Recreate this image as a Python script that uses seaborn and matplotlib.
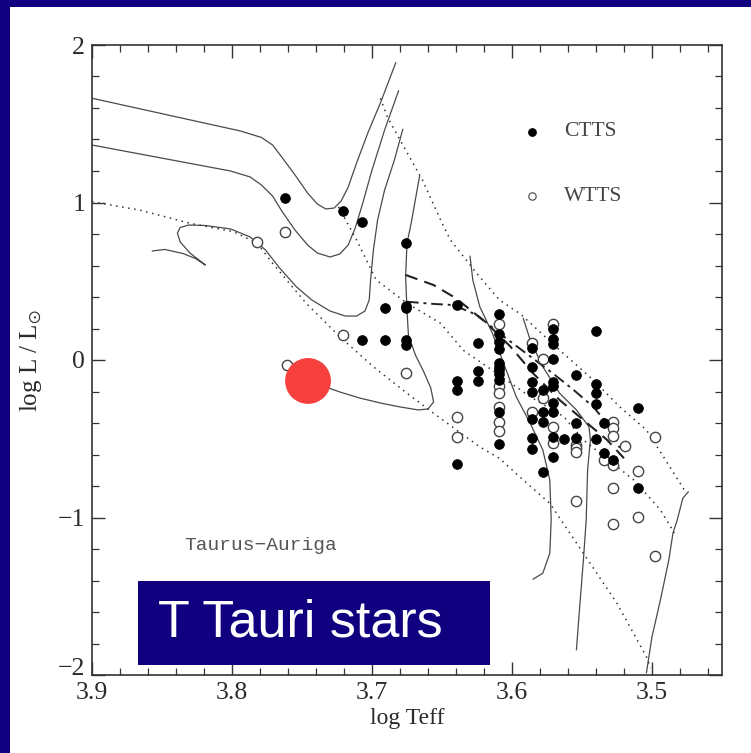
import matplotlib
matplotlib.use("Agg")
import matplotlib.pyplot as plt
import matplotlib.transforms as mtransforms
import seaborn as sns
import pandas as pd
from matplotlib.patches import Rectangle

# ---------------- data ----------------
ctts_x = [3.762, 3.721, 3.707, 3.676, 3.691, 3.676, 3.676, 3.707, 3.691, 3.676, 3.676,
          3.639, 3.639, 3.639, 3.639, 3.624, 3.624, 3.624,
          3.609, 3.609, 3.609, 3.609, 3.609, 3.609, 3.609, 3.609, 3.609, 3.609, 3.609,
          3.586, 3.586, 3.586, 3.586, 3.586, 3.586, 3.586,
          3.578, 3.578, 3.578, 3.578,
          3.571, 3.571, 3.571, 3.571, 3.571, 3.571, 3.571, 3.571, 3.571, 3.571,
          3.563, 3.554, 3.554, 3.554,
          3.540, 3.540, 3.540, 3.540, 3.540,
          3.534, 3.534, 3.528, 3.510, 3.510]
ctts_y = [1.030, 0.948, 0.878, 0.741, 0.328, 0.345, 0.330, 0.127, 0.127, 0.127, 0.095,
          0.351, -0.131, -0.190, -0.662, 0.110, -0.070, -0.131,
          0.290, 0.163, 0.112, 0.070, -0.021, -0.043, -0.063, -0.089, -0.127, -0.332, -0.533,
          0.078, -0.043, -0.138, -0.201, -0.373, -0.493, -0.563,
          -0.190, -0.328, -0.392, -0.713,
          0.199, 0.131, 0.100, 0.004, -0.138, -0.165, -0.275, -0.332, -0.491, -0.614,
          -0.503, -0.095, -0.398, -0.497,
          0.186, -0.152, -0.211, -0.281, -0.503,
          -0.402, -0.592, -0.635, -0.303, -0.815]

wtts_x = [3.782, 3.762, 3.761, 3.721, 3.676,
          3.639, 3.639,
          3.609, 3.609, 3.609, 3.609, 3.609, 3.609,
          3.586, 3.586, 3.578, 3.578,
          3.571, 3.571, 3.571,
          3.554, 3.554, 3.554, 3.554,
          3.534,
          3.528, 3.528, 3.528, 3.528, 3.528, 3.528,
          3.519, 3.510, 3.510, 3.498, 3.498]
wtts_y = [0.751, 0.811, -0.032, 0.159, -0.081,
          -0.360, -0.487,
          0.229, -0.165, -0.211, -0.297, -0.392, -0.451,
          0.110, -0.330, 0.004, -0.243,
          0.229, -0.427, -0.529,
          -0.538, -0.561, -0.584, -0.893,
          -0.635,
          -0.392, -0.434, -0.483, -0.667, -0.815, -1.043,
          -0.544, -0.703, -0.995, -0.486, -1.244]

# evolutionary tracks (solid)
trackA_x = [3.900, 3.794, 3.779, 3.771, 3.764, 3.755, 3.746, 3.739, 3.733, 3.727, 3.722, 3.717,
            3.711, 3.703, 3.694, 3.683]
trackA_y = [1.662, 1.454, 1.413, 1.365, 1.283, 1.175, 1.060, 0.990, 0.959, 0.965, 1.010, 1.098,
            1.251, 1.441, 1.632, 1.888]
trackB_x = [3.900, 3.801, 3.787, 3.779, 3.771, 3.764, 3.755, 3.746, 3.739, 3.730, 3.723, 3.717,
            3.712, 3.707, 3.700, 3.691, 3.681]
trackB_y = [1.365, 1.200, 1.162, 1.111, 1.041, 0.940, 0.825, 0.730, 0.679, 0.654, 0.673, 0.730,
            0.838, 0.984, 1.206, 1.460, 1.710]
trackC_x = [3.678, 3.684, 3.691, 3.696, 3.699, 3.701, 3.702, 3.705, 3.711, 3.719, 3.730, 3.743,
            3.754, 3.766, 3.776, 3.787, 3.801, 3.819, 3.831, 3.837, 3.839, 3.837, 3.830, 3.819,
            3.826, 3.835, 3.848, 3.857]
trackC_y = [1.465, 1.270, 1.079, 0.889, 0.698, 0.508, 0.381, 0.311, 0.279, 0.279, 0.311, 0.381,
            0.465, 0.584, 0.698, 0.781, 0.832, 0.854, 0.857, 0.841, 0.806, 0.749, 0.679, 0.603,
            0.644, 0.676, 0.702, 0.692]
trackD_x = [3.751, 3.737, 3.723, 3.709, 3.694, 3.680, 3.667, 3.660, 3.656, 3.658, 3.663, 3.669,
            3.674, 3.675, 3.676, 3.675, 3.672, 3.666]
trackD_y = [-0.114, -0.159, -0.203, -0.241, -0.273, -0.298, -0.317, -0.311, -0.267, -0.178,
            -0.076, 0.032, 0.159, 0.317, 0.529, 0.741, 0.870, 1.168]
trackE_x = [3.630, 3.628, 3.623, 3.614, 3.606, 3.597, 3.587, 3.578, 3.573, 3.572, 3.573, 3.578, 3.585]
trackE_y = [0.660, 0.508, 0.338, 0.170, -0.021, -0.233, -0.402, -0.571, -0.762, -1.016, -1.227,
            -1.354, -1.392]
trackF_x = [3.592, 3.587, 3.578, 3.566, 3.554, 3.545, 3.544, 3.546, 3.547, 3.549, 3.552, 3.554]
trackF_y = [0.265, 0.127, -0.043, -0.211, -0.317, -0.424, -0.508, -0.698, -1.016, -1.270, -1.608,
            -1.841]
trackG_x = [3.474, 3.478, 3.482, 3.485, 3.488, 3.494, 3.500, 3.504]
trackG_y = [-0.836, -0.878, -1.016, -1.098, -1.270, -1.524, -1.757, -1.987]

# isochrones (dotted)
iso1_x = [3.900, 3.866, 3.830, 3.799, 3.782, 3.771, 3.747, 3.723, 3.699, 3.675, 3.656, 3.623,
          3.609, 3.592, 3.573, 3.549, 3.525, 3.504, 3.501]
iso1_y = [1.005, 0.952, 0.868, 0.815, 0.741, 0.614, 0.360, 0.148, -0.043, -0.211, -0.338, -0.552,
          -0.624, -0.762, -0.910, -1.227, -1.545, -1.884, -1.956]
iso2_x = [3.694, 3.689, 3.680, 3.664, 3.651, 3.644, 3.626, 3.609, 3.594, 3.566, 3.542, 3.523,
          3.504, 3.489, 3.476]
iso2_y = [1.662, 1.543, 1.397, 1.143, 0.889, 0.762, 0.559, 0.381, 0.292, 0.063, -0.127, -0.298,
          -0.444, -0.654, -0.838]
iso3_x = [3.724, 3.711, 3.697, 3.675, 3.651, 3.635, 3.611, 3.587, 3.563, 3.549, 3.537, 3.513,
          3.494, 3.484]
iso3_y = [0.973, 0.762, 0.508, 0.360, 0.233, 0.063, -0.084, -0.233, -0.360, -0.508, -0.592,
          -0.762, -0.952, -1.098]

# dashed and dash-dot lines
dash_x = [3.676, 3.656, 3.640, 3.618, 3.601, 3.585, 3.566, 3.549, 3.532, 3.520]
dash_y = [0.540, 0.476, 0.392, 0.233, 0.084, -0.084, -0.254, -0.381, -0.508, -0.624]
dashdot_x = [3.675, 3.656, 3.642, 3.625, 3.609, 3.590, 3.571, 3.556, 3.542, 3.530, 3.523]
dashdot_y = [0.370, 0.356, 0.349, 0.286, 0.170, 0.043, -0.084, -0.190, -0.297, -0.424, -0.559]

# highlighted star
sun_x = [3.7457]
sun_y = [-0.133]

xticks = [3.9, 3.8, 3.7, 3.6, 3.5]
xticklabels = ["3.9", "3.8", "3.7", "3.6", "3.5"]
yticks = [-2, -1, 0, 1, 2]
yticklabels = ["\u22122", "\u22121", "0", "1", "2"]

NAVY = "#100080"

# ---------------- plot ----------------
sns.set_theme(style="ticks")
plt.rcParams["font.family"] = ["Liberation Serif", "DejaVu Serif"]
plt.rcParams["mathtext.fontset"] = "stix"

fig = plt.figure(figsize=(7.51, 7.53), dpi=100, facecolor=NAVY)
bg = Rectangle((10 / 751, 0), 1, (753 - 7) / 753, transform=fig.transFigure,
               facecolor="white", edgecolor="none", zorder=-10)
fig.add_artist(bg)
ax = fig.add_axes([92 / 751, 78 / 753, 630 / 751, 630 / 753])
ax.set_zorder(1)
ax.set_facecolor("white")

line_col = "#4a4a4a"
solid_tracks = [(trackA_x, trackA_y), (trackB_x, trackB_y), (trackC_x, trackC_y),
                (trackD_x, trackD_y), (trackE_x, trackE_y), (trackF_x, trackF_y),
                (trackG_x, trackG_y)]
for tx, ty in solid_tracks:
    sns.lineplot(x=tx, y=ty, sort=False, estimator=None, ax=ax, color=line_col, lw=0.9, zorder=2)
for tx, ty in [(iso1_x, iso1_y), (iso2_x, iso2_y), (iso3_x, iso3_y)]:
    sns.lineplot(x=tx, y=ty, sort=False, estimator=None, ax=ax, color="#333333", lw=1.1,
                 linestyle=(0, (1, 3.0)), zorder=2)
sns.lineplot(x=dash_x, y=dash_y, sort=False, estimator=None, ax=ax, color="#222222", lw=1.5,
             linestyle=(0, (6, 3.5)), zorder=2)
sns.lineplot(x=dashdot_x, y=dashdot_y, sort=False, estimator=None, ax=ax, color="#222222", lw=1.4,
             linestyle=(0, (6, 2.5, 1.5, 2.5)), zorder=2)

sns.scatterplot(x=wtts_x, y=wtts_y, ax=ax, s=55, facecolor="white", edgecolor="#444444",
                linewidth=1.0, zorder=3)
sns.scatterplot(x=ctts_x, y=ctts_y, ax=ax, s=50, color="black", edgecolor="black",
                linewidth=0.5, zorder=4)

# legend (as in original)
ax.scatter([3.586], [1.448], s=28, color="black", zorder=4)
ax.scatter([3.586], [1.041], s=28, facecolor="white", edgecolor="#555555", linewidth=0.9, zorder=4)
ax.text(3.563, 1.448, "CTTS", fontsize=15.5, color="#444444", va="center", ha="left")
ax.text(3.563, 1.041, "WTTS", fontsize=15.5, color="#444444", va="center", ha="left")

ax.text(3.834, -1.175, "Taurus\u2212Auriga", fontsize=14, color="#555555", va="center", ha="left",
        family=["Liberation Mono", "DejaVu Sans Mono"])

# red highlighted star
sns.scatterplot(x=sun_x, y=sun_y, ax=ax, s=1090, color="#f5403e", edgecolor="none", zorder=6)

# title box
ax.add_patch(Rectangle((0.073, 0.0159), 0.559, 0.133, transform=ax.transAxes,
                       facecolor=NAVY, edgecolor="none", zorder=7))
ax.text(0.105, 0.082, "T Tauri stars", transform=ax.transAxes, fontsize=37.5, color="white",
        family=["Liberation Sans", "DejaVu Sans"], va="center", ha="left", zorder=8)

ax.set_xlim(3.9, 3.45)
ax.set_ylim(-2, 2)
ax.set_xticks(xticks)
ax.set_xticklabels(xticklabels)
ax.set_yticks(yticks)
ax.set_yticklabels(yticklabels)
ax.set_xticks([3.9 - 0.02 * i for i in range(23)], minor=True)
ax.set_yticks([-2 + 0.2 * i for i in range(21)], minor=True)
ax.tick_params(which="both", direction="in", top=True, right=True, colors="#333333",
               labelcolor="#2a2a2a", labelsize=18.5)
ax.tick_params(which="major", length=9.5, width=1.0, pad=5)
ax.tick_params(which="minor", length=5, width=0.9)
for sp in ax.spines.values():
    sp.set_color("#333333")
    sp.set_linewidth(1.2)

# lift the lowest y label a little so it clears the first x label (as in the original)
lbl = ax.get_yticklabels()[0]
lbl.set_transform(lbl.get_transform() + mtransforms.ScaledTranslation(0, 6 / 72, fig.dpi_scale_trans))

ax.set_xlabel("log Teff", fontsize=17, color="#2a2a2a", labelpad=3)
ax.set_ylabel(r"log L / L$_{\odot}$", fontsize=18, color="#2a2a2a", labelpad=10)

fig.savefig("out.png", dpi=100, facecolor=NAVY)
